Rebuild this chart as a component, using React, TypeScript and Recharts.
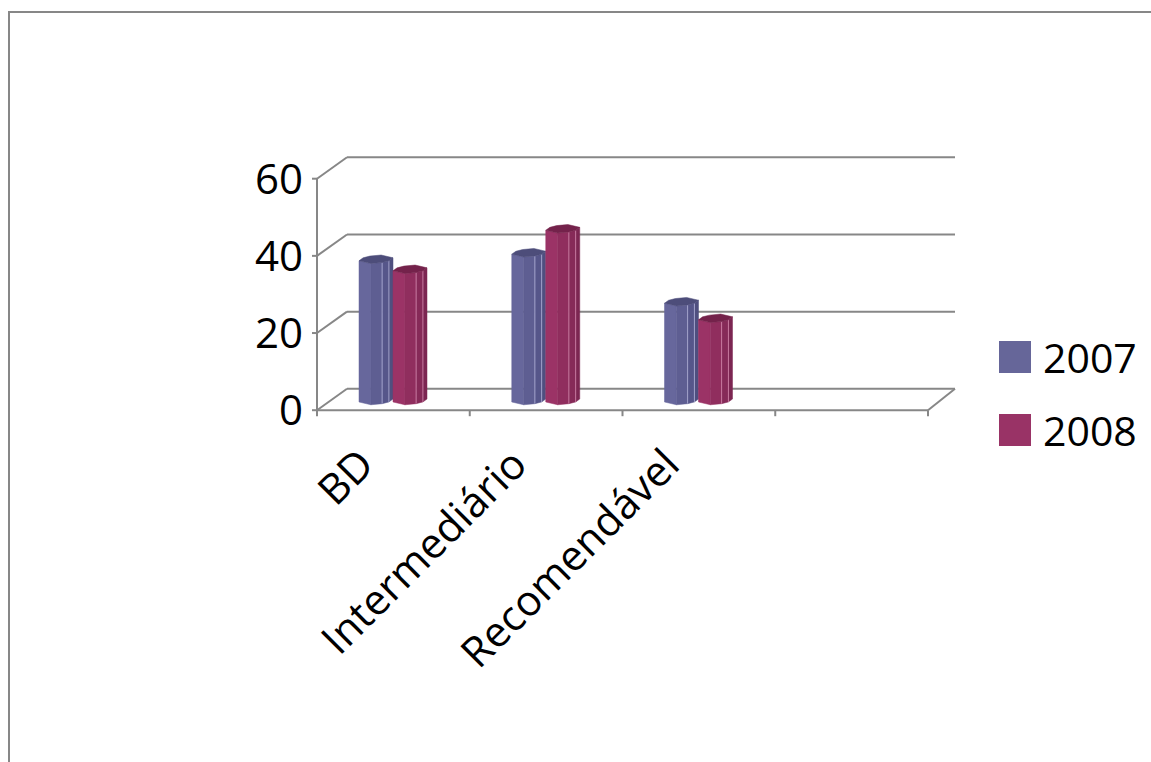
import { BarChart, Bar, XAxis, YAxis, CartesianGrid, Legend } from 'recharts'

// categorias e séries (a quarta categoria fica vazia)
const categories = ['BD', 'Intermediário', 'Recomendável', '']
const values2007 = [36.6, 38.3, 25.6, null]
const values2008 = [34.0, 44.5, 21.3, null]
const yTicks = [0, 20, 40, 60]

const data = categories.map((name, i) => ({ name, v2007: values2007[i], v2008: values2008[i] }))

const FONT = '"Open Sans", sans-serif'
const LINE = '#878787'

// área de plotagem (plano médio, onde ficam as colunas)
const W = 1151
const H = 762
const PLOT_LEFT = 317
const PLOT_RIGHT = 928
const PLOT_TOP = 169
const PLOT_BOTTOM = 400.5
const PLOT_H = PLOT_BOTTOM - PLOT_TOP
const BAND = (PLOT_RIGHT - PLOT_LEFT) / categories.length

// deslocamentos de profundidade: frente e parede do fundo
const FRONT_DY = 9.7
const BACK_DX = 30
const BACK_DY = -11.7

type Palette = { facets: string[]; cap: string; edge: string }
const pal2007: Palette = { facets: ['#67679c', '#5e5e92', '#56568a', '#4f4f7f'], cap: '#4d4d7a', edge: '#a3a3cc' }
const pal2008: Palette = { facets: ['#9b3366', '#902e5e', '#862a58', '#7c2652'], cap: '#74224b', edge: '#c87aa0' }
const FACETS = [0, 0.35, 0.68, 0.88, 1]

// coluna octogonal com tampa inclinada
function makeColumn(p: Palette) {
  return (props: any) => {
    const { x, y, width, height } = props
    if (height == null || !(height > 0)) return <g />
    const ry = 4
    const tilt = -1.5
    const pt = (f: number, cy: number, side: number) => {
      const u = 2 * f - 1
      const d = ry * Math.sqrt(Math.max(0, 1 - u * u))
      return [x + f * width, cy + side * d + tilt * u]
    }
    const top = y
    const bot = y + height
    const poly = (pts: number[][]) => pts.map((q) => q.join(',')).join(' ')
    const faces = FACETS.slice(0, -1).map((f0, i) => {
      const f1 = FACETS[i + 1]
      return (
        <polygon
          key={i}
          points={poly([pt(f0, top, 1), pt(f1, top, 1), pt(f1, bot, 1), pt(f0, bot, 1)])}
          fill={p.facets[i]}
          stroke={p.facets[i]}
          strokeWidth={0.5}
        />
      )
    })
    // frente da esquerda p/ direita, depois o fundo da direita p/ esquerda
    const capPts = [
      ...FACETS.map((f) => pt(f, top, 1)),
      ...FACETS.slice(1, -1).map((f) => pt(1 - f, top, -1)),
    ]
    return (
      <g>
        {faces}
        {[0.68, 0.88].map((f) => {
          const a = pt(f, top, 1)
          const b = pt(f, bot, 1)
          return <line key={f} x1={a[0]} y1={a[1]} x2={b[0]} y2={b[1]} stroke={p.edge} strokeWidth={1} />
        })}
        <polygon points={poly(capPts)} fill={p.cap} stroke={p.cap} strokeWidth={0.5} />
      </g>
    )
  }
}

// linhas de grade: parede do fundo + diagonal até o eixo frontal
function gridLine(props: any) {
  const { x1, x2, y1, index } = props
  return (
    <g key={`g-${index}`}>
      <line x1={x1} y1={y1 + FRONT_DY} x2={x1 + BACK_DX} y2={y1 + BACK_DY} stroke={LINE} strokeWidth={2} />
      <line x1={x1 + BACK_DX} y1={y1 + BACK_DY} x2={x2 + BACK_DX - 3} y2={y1 + BACK_DY} stroke={LINE} strokeWidth={2} />
    </g>
  )
}

function YTick(props: any) {
  const { y, payload } = props
  const yf = y + FRONT_DY
  return (
    <g>
      <line x1={PLOT_LEFT - 5} y1={yf} x2={PLOT_LEFT} y2={yf} stroke={LINE} strokeWidth={2} />
      {payload.value === 0 && (
        <line x1={PLOT_LEFT} y1={yf} x2={PLOT_LEFT} y2={yf - PLOT_H} stroke={LINE} strokeWidth={2} />
      )}
      <text x={PLOT_LEFT - 14} y={yf + 15} textAnchor="end" fontFamily={FONT} fontSize={42} fill="#000">
        {payload.value}
      </text>
    </g>
  )
}

function XTick(props: any) {
  const { x, payload, index } = props
  const yf = PLOT_BOTTOM + FRONT_DY
  const last = index === categories.length - 1
  return (
    <g>
      {index === 0 && (
        <>
          <line x1={PLOT_LEFT} y1={yf} x2={PLOT_RIGHT} y2={yf} stroke={LINE} strokeWidth={2} />
          <line x1={PLOT_RIGHT} y1={yf} x2={PLOT_RIGHT + BACK_DX - 3} y2={yf - FRONT_DY + BACK_DY} stroke={LINE} strokeWidth={2} />
        </>
      )}
      <line x1={x - BAND / 2} y1={yf} x2={x - BAND / 2} y2={yf + 6} stroke={LINE} strokeWidth={2} />
      {last && <line x1={x + BAND / 2} y1={yf} x2={x + BAND / 2} y2={yf + 6} stroke={LINE} strokeWidth={2} />}
      <text
        x={x - 17}
        y={467}
        textAnchor="end"
        transform={`rotate(-45, ${x - 17}, 467)`}
        fontFamily={FONT}
        fontSize={42}
        fill="#000"
      >
        {payload.value}
      </text>
    </g>
  )
}

function LegendBox(props: any) {
  const items = props.payload || []
  return (
    <svg width={150} height={120} style={{ overflow: 'visible', display: 'block' }}>
      {items.map((it: any, i: number) => (
        <g key={it.value} transform={`translate(0, ${i * 73})`}>
          <rect x={0} y={6} width={32} height={32} fill={it.color} />
          <text x={44} y={38} fontFamily={FONT} fontSize={41} fill="#000">
            {it.value}
          </text>
        </g>
      ))}
    </svg>
  )
}

export default function App() {
  return (
    <div style={{ position: 'absolute', left: 0, top: 0, width: W, height: H, overflow: 'hidden', background: '#fff' }}>
      <div
        style={{
          position: 'absolute',
          left: 8,
          top: 11,
          width: 1300,
          height: 900,
          borderTop: `2px solid ${LINE}`,
          borderLeft: `2px solid ${LINE}`,
        }}
      />
      <div style={{ position: 'absolute', left: 0, top: 0 }}>
        <BarChart
          width={W}
          height={H}
          data={data}
          barSize={34}
          barGap={0}
          margin={{ top: PLOT_TOP, right: W - PLOT_RIGHT, left: PLOT_LEFT - 60, bottom: H - PLOT_BOTTOM - 40 }}
        >
          <CartesianGrid vertical={false} horizontal={gridLine} />
          <XAxis dataKey="name" height={40} interval={0} axisLine={false} tickLine={false} tick={<XTick />} />
          <YAxis width={60} domain={[0, 60]} ticks={yTicks} axisLine={false} tickLine={false} tick={<YTick />} />
          <Legend
            layout="vertical"
            align="center"
            verticalAlign="middle"
            wrapperStyle={{ left: 999, top: 335, width: 150 }}
            content={<LegendBox />}
          />
          <Bar dataKey="v2007" name="2007" fill="#666699" shape={makeColumn(pal2007)} isAnimationActive={false} />
          <Bar dataKey="v2008" name="2008" fill="#993366" shape={makeColumn(pal2008)} isAnimationActive={false} />
        </BarChart>
      </div>
    </div>
  )
}
